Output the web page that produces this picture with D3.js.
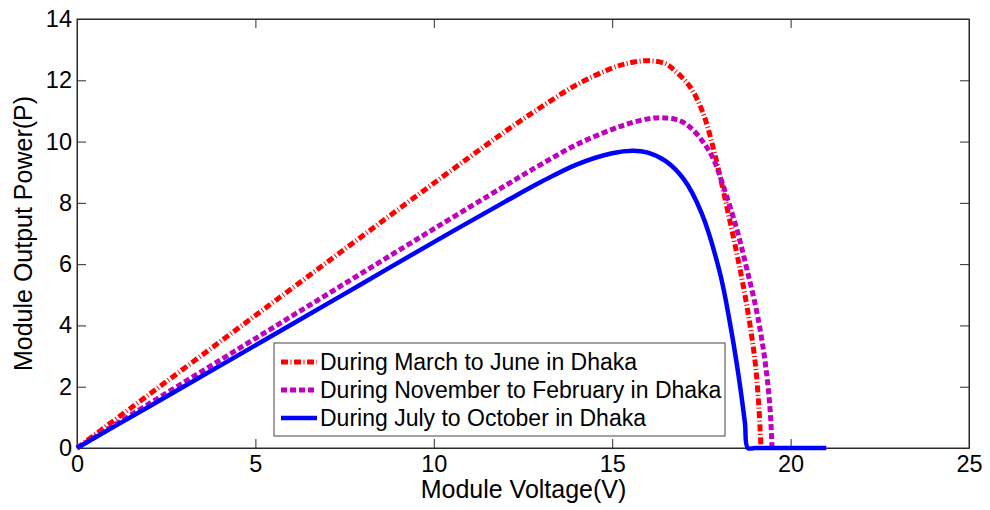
<!DOCTYPE html>
<html>
<head>
<meta charset="utf-8">
<script src="https://cdn.jsdelivr.net/npm/d3@7"></script>
<style>
  html, body { margin: 0; padding: 0; background: #fff; }
  svg { display: block; font-family: "Liberation Sans", Arial, sans-serif; }
</style>
</head>
<body>
<svg id="chart" width="990" height="510"></svg>
<script>
// Module voltage (V) and output power (P) for each season
const marchJuneV = [0, 2, 4, 6, 8, 10, 12, 13, 14, 15, 15.5, 16, 16.5, 16.71, 17.18, 17.55, 17.83, 18.0, 18.25, 18.53, 18.78, 19.0, 19.11, 19.17];
const marchJuneP = [0, 1.73, 3.46, 5.19, 6.92, 8.64, 10.33, 11.12, 11.85, 12.4, 12.57, 12.64, 12.54, 12.36, 11.79, 10.92, 9.8, 8.98, 7.67, 6.14, 4.6, 2.87, 1.34, 0];

const novFebV = [0, 2, 4, 6, 8, 10, 12, 13, 14, 15, 15.5, 16, 16.4, 16.9, 17.2, 17.54, 17.83, 18.1, 18.5, 18.78, 19.06, 19.28, 19.42, 19.48];
const novFebP = [0, 1.43, 2.86, 4.29, 5.72, 7.15, 8.56, 9.25, 9.9, 10.4, 10.6, 10.74, 10.78, 10.68, 10.45, 10.0, 9.45, 8.6, 7.11, 5.81, 4.4, 2.87, 1.34, 0];

const julyOctV = [0, 2, 4, 6, 8, 10, 12, 13, 14, 15, 15.58, 16, 16.5, 17.0, 17.5, 18.02, 18.3, 18.53, 18.72, 18.8, 19.0, 21];
const julyOctP = [0, 1.34, 2.68, 4.02, 5.37, 6.72, 8.04, 8.68, 9.25, 9.62, 9.7, 9.64, 9.36, 8.78, 7.68, 5.71, 4.08, 2.45, 0.82, 0, 0, 0];

const seriesNames = [
  "During March to June in Dhaka",
  "During November to February in Dhaka",
  "During July to October in Dhaka"
];

const xTicks = [0, 5, 10, 15, 20, 25];
const yTicks = [0, 2, 4, 6, 8, 10, 12, 14];

const series = [
  { name: seriesNames[0], v: marchJuneV, p: marchJuneP, color: "#ff0000", width: 5, dash: "7,2.5,1,2.5" },
  { name: seriesNames[1], v: novFebV, p: novFebP, color: "#bf00bf", width: 5, dash: "6,3" },
  { name: seriesNames[2], v: julyOctV, p: julyOctP, color: "#0000ff", width: 4.5, dash: null }
];

const svg = d3.select("#chart");
const plotLeft = 77, plotRight = 969, plotTop = 19, plotBottom = 448;

const x = d3.scaleLinear().domain([0, 25]).range([plotLeft, plotRight]);
const y = d3.scaleLinear().domain([0, 14]).range([plotBottom, plotTop]);

const axisColor = "#2a2a2a";
const tickLen = 9;

// Frame
svg.append("rect")
  .attr("x", plotLeft).attr("y", plotTop)
  .attr("width", plotRight - plotLeft).attr("height", plotBottom - plotTop)
  .attr("fill", "#fff").attr("stroke", axisColor).attr("stroke-width", 1);

// Bottom axis
svg.append("g").attr("transform", `translate(0,${plotBottom})`)
  .call(d3.axisBottom(x).tickValues(xTicks).tickFormat(d3.format("d"))
    .tickSizeInner(-tickLen).tickSizeOuter(0).tickPadding(7));
// Top ticks
svg.append("g").attr("transform", `translate(0,${plotTop})`)
  .call(d3.axisTop(x).tickValues(xTicks).tickFormat("")
    .tickSizeInner(-tickLen).tickSizeOuter(0));
// Left axis
svg.append("g").attr("transform", `translate(${plotLeft},0)`)
  .call(d3.axisLeft(y).tickValues(yTicks).tickFormat(d3.format("d"))
    .tickSizeInner(-tickLen).tickSizeOuter(0).tickPadding(5));
// Right ticks
svg.append("g").attr("transform", `translate(${plotRight},0)`)
  .call(d3.axisRight(y).tickValues(yTicks).tickFormat("")
    .tickSizeInner(-tickLen).tickSizeOuter(0));

svg.selectAll(".domain").attr("stroke", axisColor);
svg.selectAll(".tick line").attr("stroke", axisColor);
svg.selectAll(".tick text")
  .attr("fill", "#000")
  .style("font-size", "23.5px")
  .style("font-family", "'Liberation Sans', Arial, sans-serif");

// Axis titles
svg.append("text")
  .attr("x", (plotLeft + plotRight) / 2 + 0.5)
  .attr("y", 498)
  .attr("text-anchor", "middle")
  .style("font-size", "25px")
  .text("Module Voltage(V)");

svg.append("text")
  .attr("transform", `translate(32,${(plotTop + plotBottom) / 2}) rotate(-90)`)
  .attr("text-anchor", "middle")
  .style("font-size", "25px")
  .text("Module Output Power(P)");

// Curves
const line = d3.line()
  .x(d => x(d[0]))
  .y(d => y(d[1]))
  .curve(d3.curveCatmullRom.alpha(0.5));

series.forEach(s => {
  const pts = s.v.map((v, i) => [v, s.p[i]]);
  svg.append("path")
    .datum(pts)
    .attr("d", line)
    .attr("fill", "none")
    .attr("stroke", s.color)
    .attr("stroke-width", s.width)
    .attr("stroke-dasharray", s.dash)
    .attr("stroke-linejoin", "round");
});

// Legend
const lg = svg.append("g");
lg.append("rect")
  .attr("x", 274).attr("y", 343)
  .attr("width", 451).attr("height", 93)
  .attr("fill", "#fff").attr("stroke", "#444").attr("stroke-width", 1);

const rowY = [362, 390, 418];
series.forEach((s, i) => {
  lg.append("line")
    .attr("x1", 281).attr("x2", 317)
    .attr("y1", rowY[i]).attr("y2", rowY[i])
    .attr("stroke", s.color)
    .attr("stroke-width", s.width)
    .attr("stroke-dasharray", s.dash);
  lg.append("text")
    .attr("x", 320).attr("y", rowY[i])
    .attr("dy", "0.35em")
    .style("font-size", "23px")
    .text(s.name);
});
</script>
</body>
</html>
